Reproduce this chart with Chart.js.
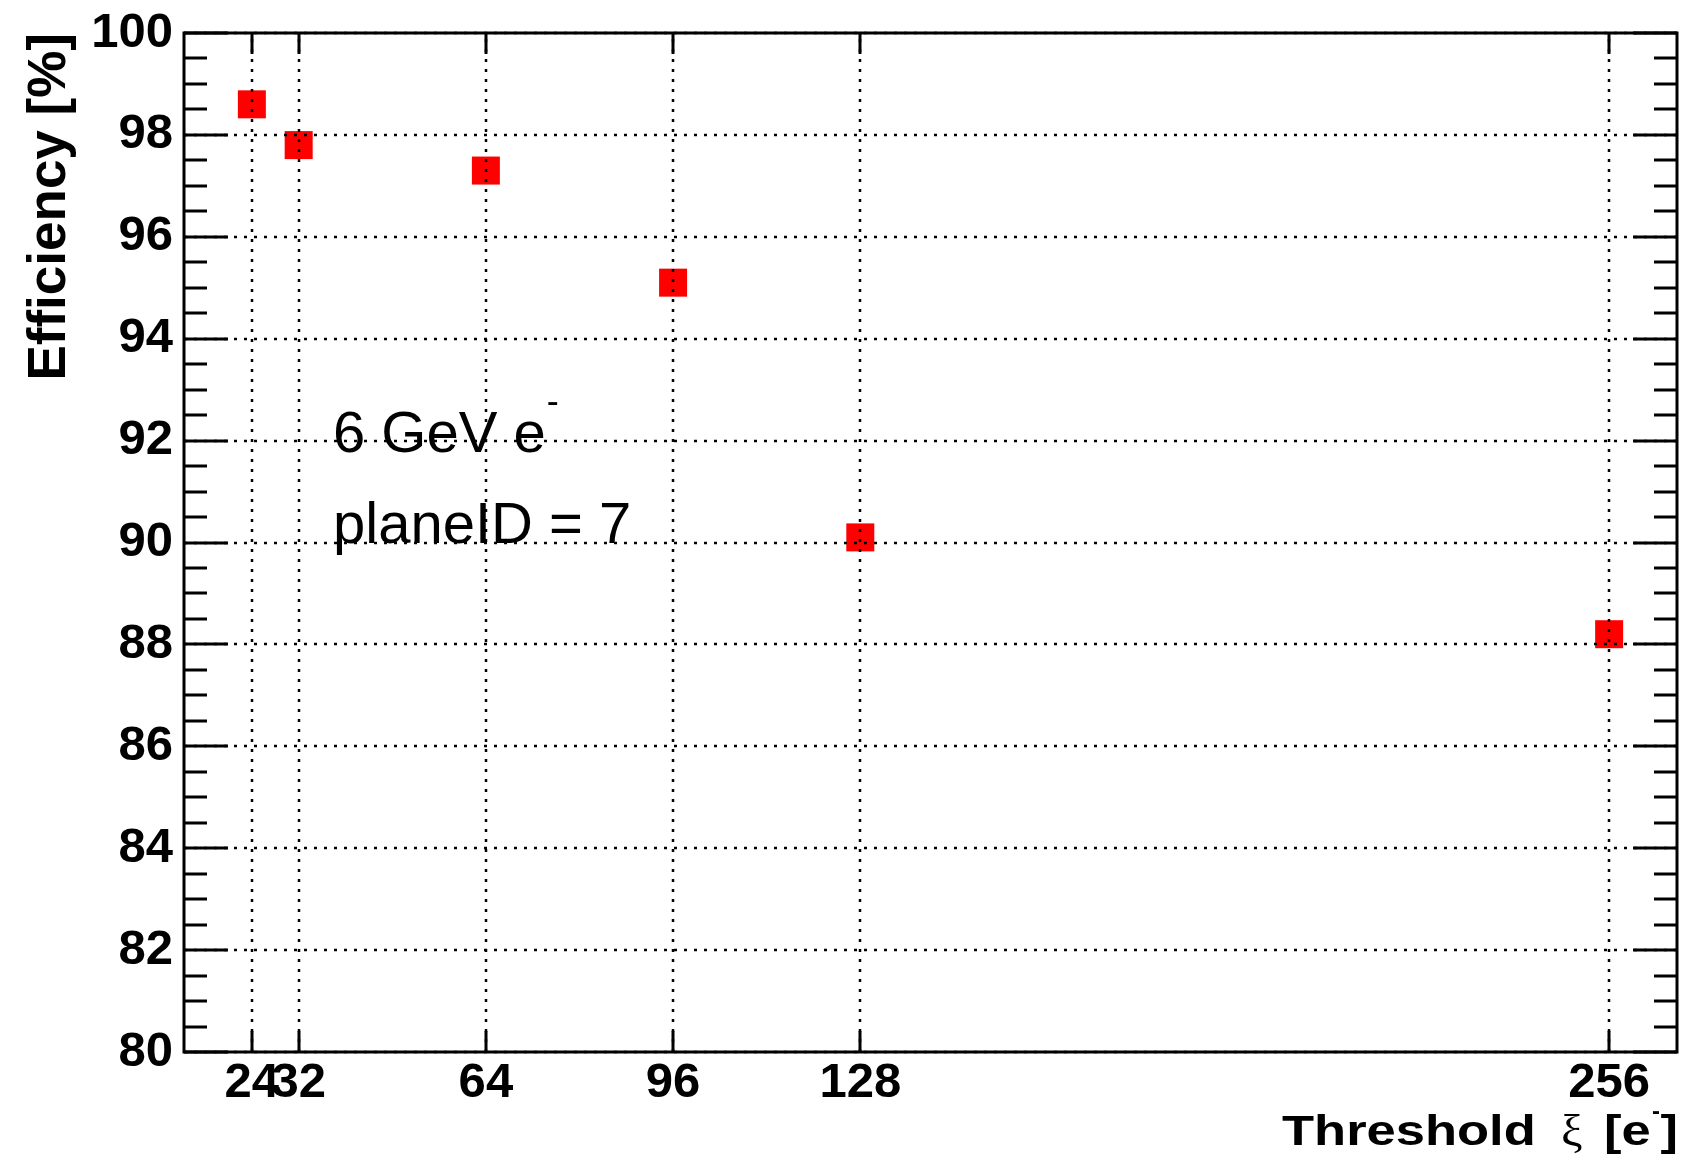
<!DOCTYPE html>
<html>
<head>
<meta charset="utf-8">
<script src="https://cdn.jsdelivr.net/npm/chart.js@4.4.1/dist/chart.umd.min.js"></script>
<style>
    html, body { margin: 0; padding: 0; background: #fff; }
    #wrap { width: 1687px; height: 1165px; }
</style>
</head>
<body>
<div id="wrap"><canvas id="effChart" width="1687" height="1165"></canvas></div>
<script>
// threshold scan, 6 GeV e-, plane 7
const thresholds = [24, 32, 64, 96, 128, 256];
const efficiency = [98.6, 97.8, 97.3, 95.1, 90.1, 88.2];
const yTickValues = [80, 82, 84, 86, 88, 90, 92, 94, 96, 98, 100];
const xRange = [12.4, 267.6];
const yRange = [80, 100];
const yMinorStep = 0.5;
const labelLines = ["6 GeV e", "planeID = 7"];

const FONT = "'Liberation Sans', Arial, Helvetica, sans-serif";

// ROOT stretches the x title a bit horizontally
function wideText(ctx, text, x, y, font, sx) {
    ctx.save();
    ctx.translate(x, y);
    ctx.scale(sx, 1);
    ctx.font = font;
    ctx.fillText(text, 0, 0);
    ctx.restore();
}

const rootFrame = {
    id: "rootFrame",
    afterDatasetsDraw(chart) {
        const { ctx, chartArea: a } = chart;
        const xs = chart.scales.x;
        const ys = chart.scales.y;
        ctx.save();

        // dotted grid, drawn over the markers like ROOT does
        ctx.strokeStyle = "#000";
        ctx.lineWidth = 2.5;
        ctx.setLineDash([3, 7]);
        thresholds.forEach(v => {
            const px = Math.round(xs.getPixelForValue(v));
            ctx.beginPath();
            ctx.moveTo(px, a.bottom);
            ctx.lineTo(px, a.top);
            ctx.stroke();
        });
        yTickValues.forEach(v => {
            const py = Math.round(ys.getPixelForValue(v));
            ctx.beginPath();
            ctx.moveTo(a.left, py);
            ctx.lineTo(a.right, py);
            ctx.stroke();
        });
        ctx.setLineDash([]);

        // ticks inside the frame, mirrored on the opposite sides
        ctx.lineWidth = 3;
        for (let v = yRange[0]; v <= yRange[1] + 1e-9; v += yMinorStep) {
            const py = Math.round(ys.getPixelForValue(v));
            const major = Math.abs(v / 2 - Math.round(v / 2)) < 1e-6;
            const len = major ? 44 : 23;
            ctx.beginPath();
            ctx.moveTo(a.left, py);
            ctx.lineTo(a.left + len, py);
            ctx.moveTo(a.right, py);
            ctx.lineTo(a.right - len, py);
            ctx.stroke();
        }
        thresholds.forEach(v => {
            const px = Math.round(xs.getPixelForValue(v));
            ctx.beginPath();
            ctx.moveTo(px, a.bottom);
            ctx.lineTo(px, a.bottom - 21);
            ctx.moveTo(px, a.top);
            ctx.lineTo(px, a.top + 21);
            ctx.stroke();
        });

        ctx.strokeRect(a.left, a.top, a.right - a.left, a.bottom - a.top);
        ctx.restore();
    },
    afterDraw(chart) {
        const { ctx } = chart;
        ctx.save();
        ctx.fillStyle = "#000";
        ctx.textBaseline = "alphabetic";

        // y title
        ctx.save();
        ctx.translate(65, 33);
        ctx.rotate(-Math.PI / 2);
        ctx.textAlign = "right";
        ctx.font = "bold 53px " + FONT;
        ctx.fillText("Efficiency [%]", 0, 0);
        ctx.restore();

        // x title
        ctx.textAlign = "left";
        const bold42 = "bold 42px " + FONT;
        wideText(ctx, "Threshold", 1282, 1145, bold42, 1.25);
        wideText(ctx, "\u03be", 1561, 1145, "44px 'Liberation Serif', 'DejaVu Serif', serif", 1.1);
        wideText(ctx, "[e", 1604, 1145, bold42, 1.25);
        wideText(ctx, "-", 1652, 1119, "bold 24px " + FONT, 1.0);
        ctx.textAlign = "right";
        wideText(ctx, "]", 1678, 1145, bold42, 1.25);

        // annotation
        ctx.textAlign = "left";
        ctx.font = "58px " + FONT;
        ctx.fillText(labelLines[0], 333, 452);
        const w = ctx.measureText(labelLines[0]).width;
        ctx.fillText(labelLines[1], 333, 543);
        ctx.font = "36px " + FONT;
        ctx.fillText("-", 333 + w + 1, 413);
        ctx.restore();
    }
};

const tickFont = { family: FONT, size: 49, weight: "bold" };

new Chart(document.getElementById("effChart"), {
    type: "scatter",
    data: {
        datasets: [{
            label: "efficiency",
            data: thresholds.map((t, i) => ({ x: t, y: efficiency[i] })),
            pointStyle: "rect",
            pointRadius: 19.8,
            pointHoverRadius: 19.8,
            backgroundColor: "#ff0000",
            borderWidth: 0,
            showLine: false
        }]
    },
    options: {
        responsive: false,
        animation: false,
        devicePixelRatio: 1,
        layout: {
            autoPadding: false,
            padding: { top: 33, right: 10, left: 0, bottom: 0 }
        },
        plugins: {
            legend: { display: false },
            tooltip: { enabled: false }
        },
        scales: {
            x: {
                type: "linear",
                min: xRange[0],
                max: xRange[1],
                afterBuildTicks: scale => {
                    scale.ticks = thresholds.map(v => ({ value: v }));
                },
                afterFit: scale => {
                    scale.height = 113;
                    scale.paddingLeft = 0;
                    scale.paddingRight = 0;
                },
                grid: { display: false, drawTicks: false },
                border: { display: false },
                ticks: {
                    autoSkip: false,
                    maxRotation: 0,
                    padding: 2,
                    color: "#000",
                    font: tickFont,
                    callback: v => String(v)
                }
            },
            y: {
                min: yRange[0],
                max: yRange[1],
                afterFit: scale => {
                    scale.width = 184;
                    scale.paddingTop = 0;
                    scale.paddingBottom = 0;
                },
                grid: { display: false, drawTicks: false },
                border: { display: false },
                ticks: {
                    stepSize: 2,
                    padding: 11,
                    color: "#000",
                    font: tickFont
                }
            }
        }
    },
    plugins: [rootFrame]
});
</script>
</body>
</html>
